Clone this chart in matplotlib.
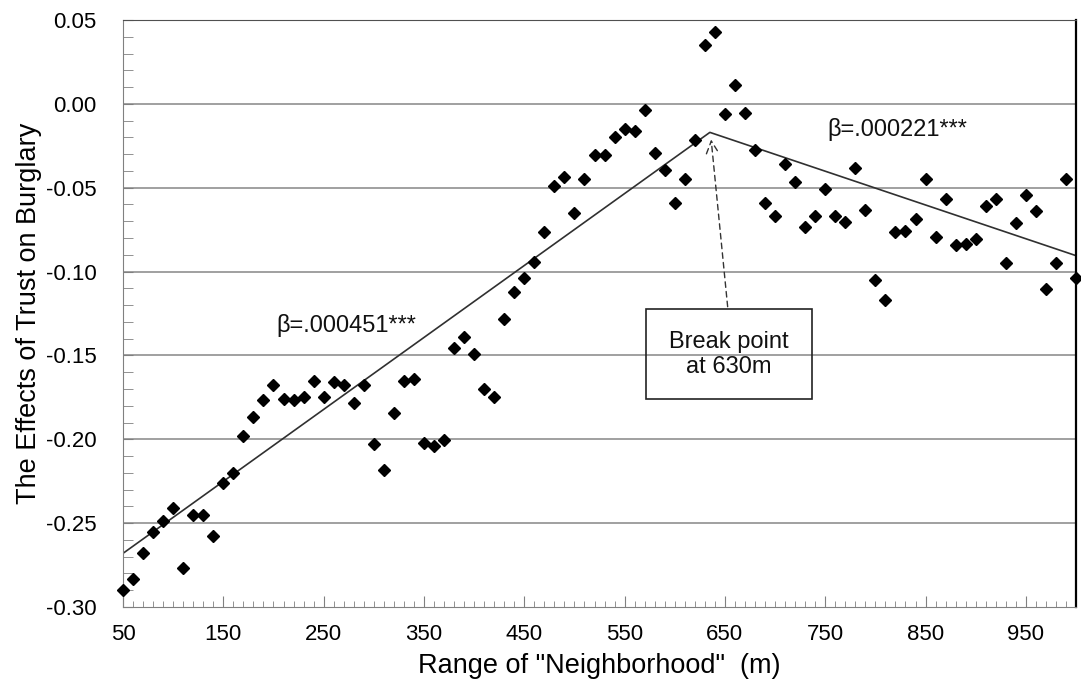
import numpy as np
import matplotlib.pyplot as plt
from matplotlib.patches import Rectangle
from matplotlib.ticker import MultipleLocator, FixedLocator

plt.rcParams['font.family'] = ['Liberation Sans', 'DejaVu Sans']

# neighborhood range (m), every 10 m from 50 to 1000
ranges = list(range(50, 1001, 10))

# effect of trust on burglary
effects = [
    -0.290, -0.283, -0.268, -0.2555, -0.249, -0.241, -0.277, -0.245, -0.245, -0.2575,
    -0.2258, -0.2198, -0.198, -0.1865, -0.1768, -0.1679, -0.1758, -0.1766, -0.1748, -0.1653,
    -0.1748, -0.1659, -0.1679, -0.1782, -0.1679, -0.2026, -0.2183, -0.1841, -0.1653, -0.1643,
    -0.202, -0.204, -0.2006, -0.1457, -0.1389, -0.1494, -0.1698, -0.1748, -0.1282, -0.1123,
    -0.1038, -0.0942, -0.0766, -0.0488, -0.0438, -0.0651, -0.0448, -0.0304, -0.0304, -0.0198,
    -0.0149, -0.0161, -0.0036, -0.0294, -0.0393, -0.0591, -0.0448, -0.0214, 0.0351, 0.0427,
    -0.0061, 0.0111, -0.0056, -0.0274, -0.0591, -0.0671, -0.0359, -0.0466, -0.0736, -0.0671,
    -0.0506, -0.0671, -0.0704, -0.0383, -0.0631, -0.1048, -0.1171, -0.0764, -0.0760, -0.0686,
    -0.0448, -0.0794, -0.0565, -0.0843, -0.0835, -0.0804, -0.0611, -0.0565, -0.0948, -0.0710,
    -0.0546, -0.0641, -0.1103, -0.0948, -0.0448, -0.1038,
]

# piecewise regression line (start, break, end)
fit_x = [50, 635, 1000]
fit_y = [-0.268, -0.017, -0.0905]

x_ticks = list(range(50, 1000, 100))
y_ticks = [0.05, 0.00, -0.05, -0.10, -0.15, -0.20, -0.25, -0.30]

fig = plt.figure(figsize=(10.81, 6.97), dpi=100)
ax = fig.add_axes([0.1138, 0.1291, 0.8816, 0.8422])

ax.set_xlim(50, 1000)
ax.set_ylim(-0.30, 0.05)

# grid lines
for y in y_ticks[1:-1]:
    ax.axhline(y, color='#a0a0a0', lw=1.4, zorder=1)

ax.plot(fit_x, fit_y, color='#303030', lw=1.2, zorder=2)
ax.plot(ranges, effects, linestyle='none', marker='D', markersize=6,
        color='black', zorder=3, clip_on=False)

# break point annotation
ax.add_patch(Rectangle((571, -0.1762), 166, -0.1226 + 0.1762, fill=False,
                       edgecolor='#222222', lw=1.2, zorder=4))
ax.text(654, -0.1494, 'Break point\nat 630m', ha='center', va='center',
        fontsize=17, linespacing=1.2, color='#111111', zorder=5)
ax.annotate('', xy=(636, -0.0196), xytext=(653, -0.1226),
            arrowprops=dict(arrowstyle='->', linestyle=(0, (4, 3)), lw=1.0,
                            color='#333333', mutation_scale=22), zorder=4)

ax.text(203, -0.132, 'β=.000451***', fontsize=17, color='#111111', va='center')
ax.text(752, -0.0155, 'β=.000221***', fontsize=17, color='#111111', va='center')

# axes styling
ax.xaxis.set_major_locator(FixedLocator(x_ticks))
ax.xaxis.set_minor_locator(MultipleLocator(10))
ax.yaxis.set_major_locator(FixedLocator(y_ticks))
ax.yaxis.set_minor_locator(MultipleLocator(0.01))
ax.set_yticklabels(['%.2f' % v for v in y_ticks])
ax.tick_params(axis='x', which='major', direction='in', length=8, color='#808080',
               labelsize=16, pad=12)
ax.tick_params(axis='x', which='minor', direction='in', length=4, color='#808080')
ax.tick_params(axis='y', which='major', direction='in', length=7, color='#808080',
               labelsize=16, pad=19)
ax.tick_params(axis='y', which='minor', direction='in', length=7, color='#808080')

ax.spines['left'].set_color('#808080')
ax.spines['bottom'].set_color('#808080')
ax.spines['top'].set_color('#505050')
ax.spines['right'].set_color('black')
ax.spines['right'].set_linewidth(1.6)
for s in ax.spines.values():
    s.set_zorder(2.5)

ax.set_xlabel('Range of "Neighborhood"  (m)', fontsize=19.5)
ax.set_ylabel('The Effects of Trust on Burglary', fontsize=19.5)
ax.xaxis.set_label_coords(0.5, -0.078)
ax.yaxis.set_label_coords(-0.085, 0.5)

fig.savefig('out.png', dpi=100)
